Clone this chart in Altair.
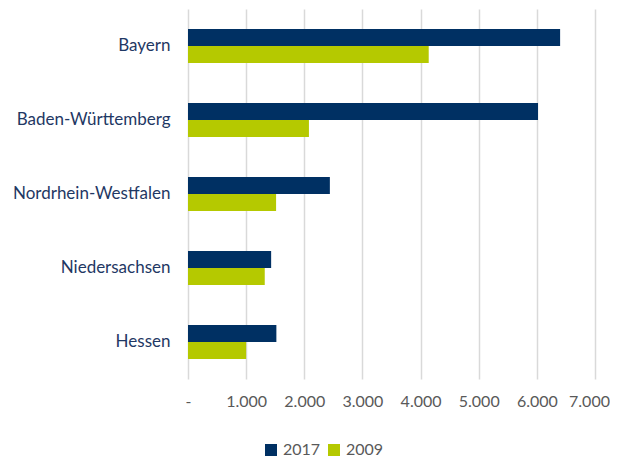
import altair as alt
import pandas as pd

states = ["Bayern", "Baden-Württemberg", "Nordrhein-Westfalen", "Niedersachsen", "Hessen"]
v2017 = [6400, 6020, 2440, 1430, 1520]
v2009 = [4140, 2080, 1515, 1320, 1000]
years = ["2017", "2009"]

rows = []
for s, a, b in zip(states, v2017, v2009):
    rows.append({"state": s, "year": "2017", "value": a})
    rows.append({"state": s, "year": "2009", "value": b})
df = pd.DataFrame(rows)

font = "Lato"

chart = alt.Chart(df).mark_bar().encode(
    x=alt.X("value:Q",
            scale=alt.Scale(domain=[0, 7000], nice=False),
            axis=alt.Axis(values=[0, 1000, 2000, 3000, 4000, 5000, 6000, 7000],
                          labelExpr="datum.value == 0 ? '-' : replace(format(datum.value, ','), ',', '.')",
                          title=None, domain=False, ticks=False, labelFlush=False,
                          labelOverlap=False,
                          labelOffset={"expr": "datum.value == 7000 ? -6 : 0"},
                          grid=True, gridColor="#D9D9D9", gridWidth=1.5,
                          labelColor="#595959", labelFont=font, labelFontSize=16,
                          labelPadding=14)),
    y=alt.Y("state:N", sort=states,
            scale=alt.Scale(paddingInner=0.54, paddingOuter=0.27),
            axis=alt.Axis(title=None, domain=False, ticks=False, grid=False,
                          labelColor="#1F3864", labelFont=font, labelFontSize=17,
                          labelPadding=18)),
    yOffset=alt.YOffset("year:N", sort=years, scale=alt.Scale(paddingInner=0, paddingOuter=0)),
    color=alt.Color("year:N", sort=years,
                    scale=alt.Scale(domain=years, range=["#003063", "#B5C900"]),
                    legend=alt.Legend(title=None, orient="none", direction="horizontal",
                                      legendX=75, legendY=433,
                                      symbolType="square", symbolSize=144,
                                      symbolStrokeWidth=0, symbolOpacity=1,
                                      labelColor="#595959", labelFont=font, labelFontSize=16,
                                      columnPadding=5, labelOffset=4)),
).properties(
    width=407, height=370,
    autosize=alt.AutoSizeParams(type="none"),
    padding={"left": 180, "top": 1, "right": 15, "bottom": 80},
).configure_view(stroke=None)

chart.save("out.html", embed_options={"renderer": "svg", "actions": False})
